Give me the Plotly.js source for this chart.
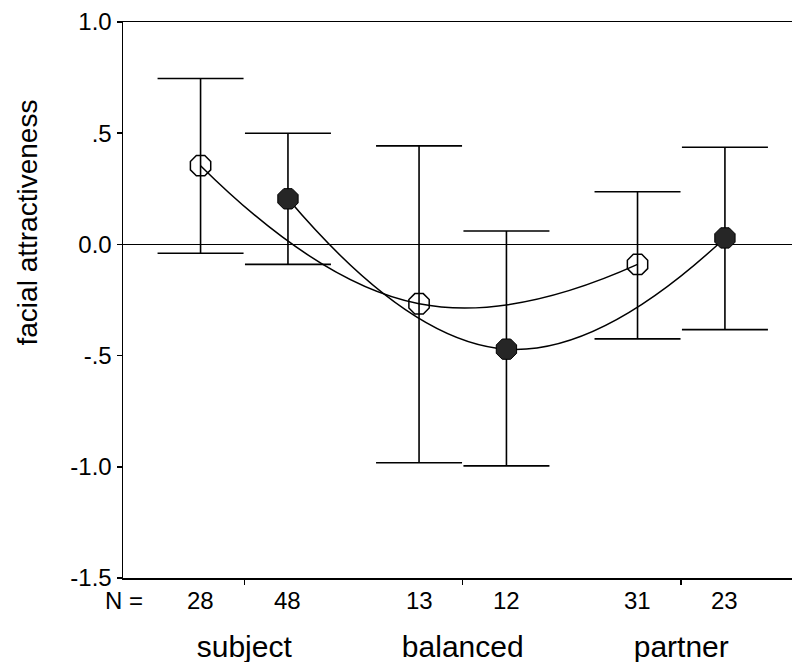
<!DOCTYPE html>
<html>
<head>
<meta charset="utf-8">
<script src="https://cdn.plot.ly/plotly-3.0.1.min.js"></script>
<style>html,body{margin:0;padding:0;background:#fff;}</style>
</head>
<body>
<div id="chart" style="width:792px;height:662px;"></div>
<script>
// Data
const groups = ["subject", "balanced", "partner"];
const groupPos = [1, 2, 3];
const offsetOpen = -0.2;
const offsetFilled = 0.2;

const openMean  = [0.354, -0.267, -0.090];
const openUpper = [0.746,  0.443,  0.237];
const openLower = [-0.040, -0.982, -0.425];
const openN     = [28, 13, 31];

const filledMean  = [0.205, -0.471, 0.029];
const filledUpper = [0.500,  0.060, 0.437];
const filledLower = [-0.090, -0.996, -0.383];
const filledN     = [48, 12, 23];

const yTickVals = [1.0, 0.5, 0.0, -0.5, -1.0, -1.5];
const yTickText = ["1.0", ".5", "0.0", "-.5", "-1.0", "-1.5"];

const FONT = "Liberation Sans, Arial, sans-serif";

function xs(off) { return groupPos.map(g => g + off); }
function plusErr(m, u) { return m.map((v, i) => u[i] - v); }
function minusErr(m, l) { return m.map((v, i) => v - l[i]); }

const traceOpen = {
  x: xs(offsetOpen), y: openMean, type: "scatter", mode: "lines+markers",
  line: {shape: "spline", smoothing: 1.3, color: "#000", width: 1.5},
  marker: {symbol: "octagon-open", size: 22, color: "#000", line: {color: "#000", width: 1.5}},
  error_y: {type: "data", symmetric: false, array: plusErr(openMean, openUpper),
            arrayminus: minusErr(openMean, openLower), width: 43, thickness: 1.6, color: "#000"},
  showlegend: false, hoverinfo: "skip"
};
const traceFilled = {
  x: xs(offsetFilled), y: filledMean, type: "scatter", mode: "lines+markers",
  line: {shape: "spline", smoothing: 1.3, color: "#000", width: 1.5},
  marker: {symbol: "octagon", size: 22, color: "#262626", line: {color: "#000", width: 1}},
  error_y: {type: "data", symmetric: false, array: plusErr(filledMean, filledUpper),
            arrayminus: minusErr(filledMean, filledLower), width: 43, thickness: 1.6, color: "#000"},
  showlegend: false, hoverinfo: "skip"
};

const annotations = [];
const nX = xs(offsetOpen).concat(xs(offsetFilled));
const nT = openN.concat(filledN);
nX.forEach((x, i) => annotations.push({
  x: x, xref: "x", y: -0.041, yref: "paper", text: String(nT[i]), showarrow: false,
  xanchor: "center", yanchor: "middle", font: {family: FONT, size: 24, color: "#000"}
}));
annotations.push({
  x: 0.0015, xref: "paper", y: -0.041, yref: "paper", text: "N =", showarrow: false,
  xanchor: "center", yanchor: "middle", font: {family: FONT, size: 24, color: "#000"}
});
annotations.push({
  x: -0.143, xref: "paper", y: 0.64, yref: "paper", text: "facial attractiveness", showarrow: false,
  textangle: -90, xanchor: "center", yanchor: "middle", font: {family: FONT, size: 28, color: "#000"}
});

const layout = {
  width: 792, height: 662,
  margin: {l: 123, r: 0, t: 22, b: 84, pad: 0},
  paper_bgcolor: "#fff", plot_bgcolor: "#fff",
  font: {family: FONT, color: "#000"},
  showlegend: false,
  xaxis: {
    range: [0.445, 3.507], tickvals: groupPos, ticktext: groups,
    ticks: "outside", ticklen: 5, tickwidth: 1.5, tickcolor: "#000",
    showline: true, linecolor: "#000", linewidth: 1.5, mirror: true,
    showgrid: false, zeroline: false,
    tickfont: {family: FONT, size: 30, color: "#000"}, ticklabelstandoff: 36
  },
  yaxis: {
    range: [-1.5, 1.0], tickvals: yTickVals, ticktext: yTickText,
    ticks: "outside", ticklen: 5, tickwidth: 1.5, tickcolor: "#000",
    showline: true, linecolor: "#000", linewidth: 1.5,
    showgrid: false, zeroline: true, zerolinecolor: "#000", zerolinewidth: 1.5,
    tickfont: {family: FONT, size: 24, color: "#000"}
  },
  annotations: annotations
};

Plotly.newPlot("chart", [traceOpen, traceFilled], layout, {displayModeBar: false, staticPlot: true});
</script>
</body>
</html>
